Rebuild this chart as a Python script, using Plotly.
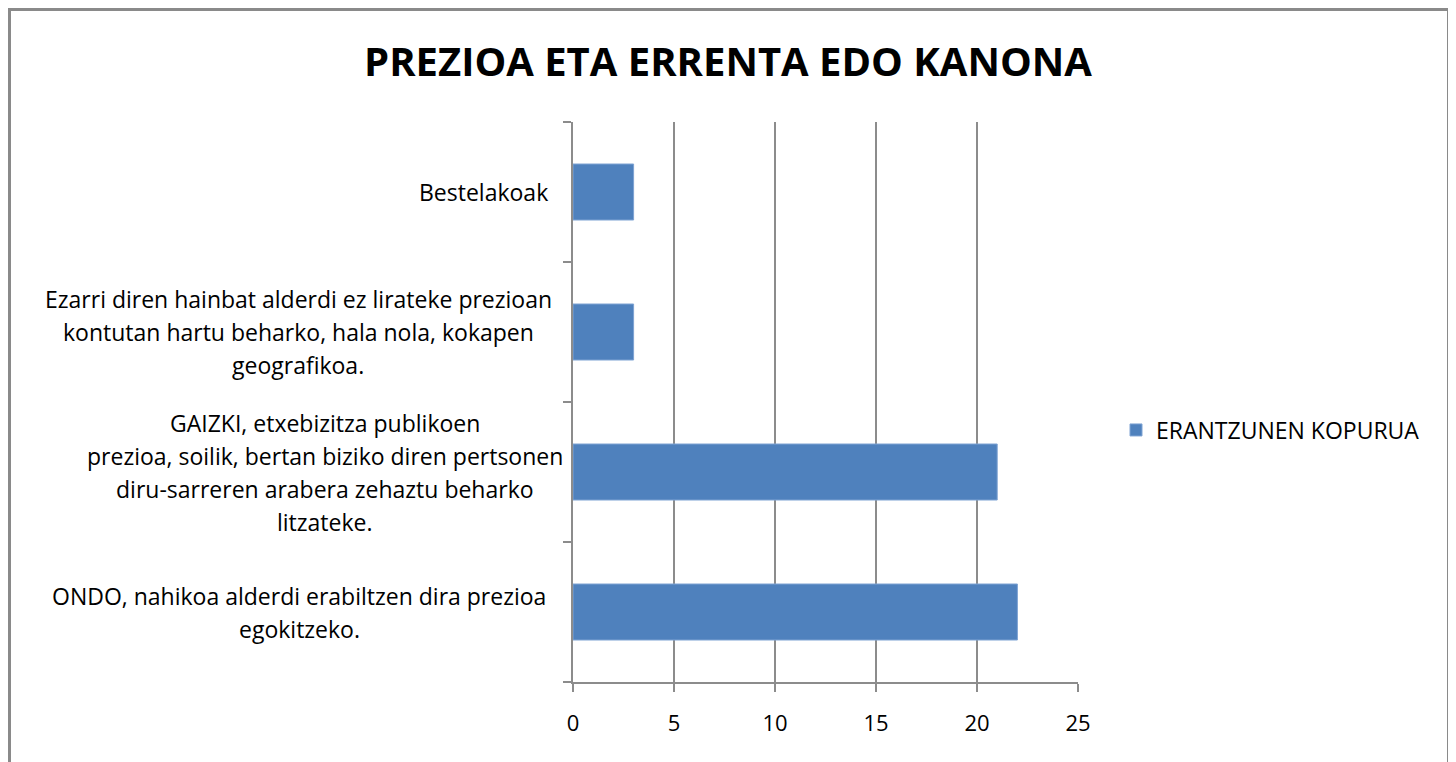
import plotly.graph_objects as go

title_text = "PREZIOA ETA ERRENTA EDO KANONA"
series_name = "ERANTZUNEN KOPURUA"
categories = ["ONDO", "GAIZKI", "Ezarri", "Bestelakoak"]
category_lines = [
    ["ONDO, nahikoa alderdi erabiltzen dira prezioa", "egokitzeko."],
    ["GAIZKI, etxebizitza publikoen", "prezioa, soilik, bertan biziko diren pertsonen",
     "diru-sarreren arabera zehaztu beharko", "litzateke."],
    ["Ezarri diren hainbat alderdi ez lirateke prezioan",
     "kontutan hartu beharko, hala nola, kokapen", "geografikoa."],
    ["Bestelakoak"],
]
values = [22, 21, 3, 3]
x_ticks = [0, 5, 10, 15, 20, 25]

OFF = 8  # page offset of the figure inside the browser window
W, H = 1456 - OFF, 762 - OFF
# plot area in window pixels: x 573..1078, y 122..682
ml = 573 - OFF
mt = 122 - OFF
mr = W - (1078 - OFF)
mb = H - (682 - OFF)
pw, ph = W - ml - mr, H - mt - mb

def px_x(p):
    return (p - OFF - ml) / pw

def px_y(p):
    return (H - mb - (p - OFF)) / ph

FONT = "Open Sans"
GRID = "#8c8c8c"
LBL = 23

fig = go.Figure()
fig.add_trace(go.Bar(
    x=values, y=categories, orientation="h", name=series_name,
    marker=dict(color="#4F81BD", line=dict(color="#7EA3D3", width=1)),
    showlegend=True,
))

block_center = {"ONDO": 299, "GAIZKI": 325, "Ezarri": 298, "Bestelakoak": 483}
annotations = []
line_gap = 33
for cat, lines in zip(categories, category_lines):
    n = len(lines)
    for i, ln in enumerate(lines):
        annotations.append(dict(
            x=px_x(block_center[cat]), xref="paper", y=cat, yref="y",
            xanchor="center", yanchor="middle", align="center",
            text=ln, showarrow=False,
            yshift=((n - 1) / 2 - i) * line_gap,
            font=dict(family=FONT, size=LBL, color="#000000"),
        ))

fig.update_layout(
    width=W, height=H,
    margin=dict(l=ml, r=mr, t=mt, b=mb),
    paper_bgcolor="white", plot_bgcolor="white",
    title=dict(text="<b>" + title_text + "</b>", x=(728 - OFF) / W, xref="container", xanchor="center",
               y=1 - (62 - OFF) / H, yref="container", yanchor="middle",
               font=dict(family=FONT, size=40, color="#000000")),
    bargap=0.6,
    xaxis=dict(range=[0, 25], tickvals=x_ticks, showgrid=True, gridcolor=GRID, gridwidth=1.5,
               zeroline=False, showline=True, linecolor=GRID, linewidth=2,
               ticks="outside", ticklen=8, tickcolor=GRID, tickwidth=2,
               ticklabelstandoff=13,
               tickfont=dict(family=FONT, size=22, color="#000000"), fixedrange=True),
    yaxis=dict(categoryorder="array", categoryarray=categories, showgrid=False,
               showline=True, linecolor=GRID, linewidth=2, ticks="outside",
               tickson="boundaries", ticklen=8, tickcolor=GRID, tickwidth=2,
               showticklabels=False, fixedrange=True),
    legend=dict(x=px_x(1116), y=px_y(430), xanchor="left", yanchor="middle",
                font=dict(family=FONT, size=LBL, color="#000000"),
                itemwidth=30, bgcolor="rgba(0,0,0,0)"),
    annotations=annotations,
    shapes=[dict(type="rect", xref="paper", yref="paper",
                 x0=px_x(9.5), x1=px_x(1448.5), y0=px_y(800), y1=px_y(9.5),
                 line=dict(color="#8a8a8a", width=3), fillcolor="rgba(0,0,0,0)", layer="below")],
)

fig.write_html("out.html")
